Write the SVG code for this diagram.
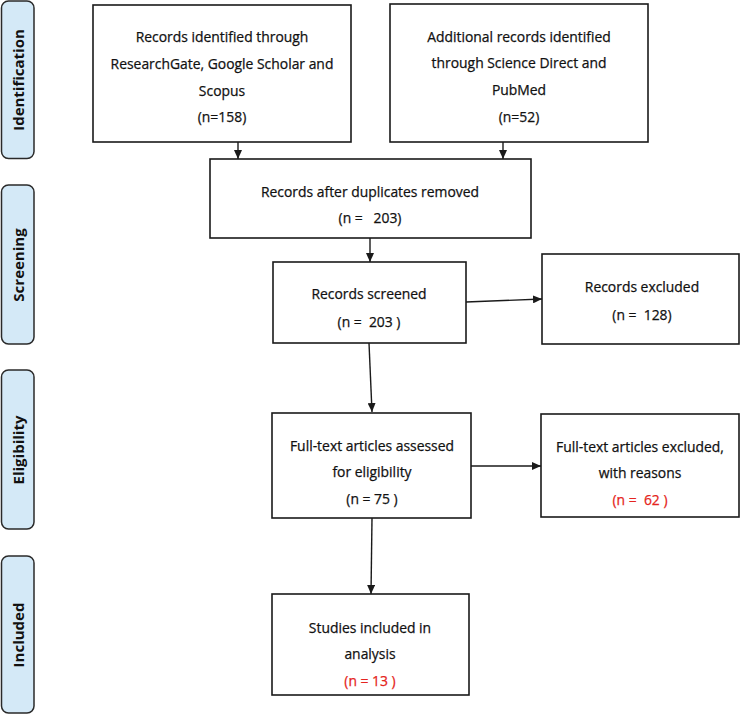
<svg xmlns="http://www.w3.org/2000/svg" width="741" height="715" viewBox="0 0 741 715">
<style>
  .bg { fill: #ffffff; }
  .phase rect { fill: #d4e9f7; stroke: #2a2a2a; stroke-width: 1.5; }
  .phase text { font-family: "Open Sans", "Liberation Sans", Arial, sans-serif; font-weight: bold; font-size: 15px; fill: #111111; text-anchor: middle; }
  .node rect { fill: #ffffff; stroke: #1a1a1a; stroke-width: 1.6; }
  .node text { font-family: "Open Sans", "Liberation Sans", Arial, sans-serif; font-size: 13.9px; fill: #111111; stroke: #111111; stroke-width: 0.25; text-anchor: middle; }
  .node text.red { fill: #e52420; stroke: #e52420; }
  .conn line { stroke: #1a1a1a; stroke-width: 1.4; fill: none; marker-end: url(#arr); }
</style>
<defs>
  <marker id="arr" markerUnits="userSpaceOnUse" markerWidth="10" markerHeight="8" refX="9" refY="4" orient="auto">
    <path d="M0,0 L9,4 L0,8 Z" fill="#1a1a1a"/>
  </marker>
</defs>
<rect class="bg" x="0" y="0" width="741" height="715"/>

<g id="phase-identification" class="phase">
  <rect x="1.5" y="1" width="32.5" height="157.5" rx="7"/>
  <text transform="translate(24,80) rotate(-90)">Identification</text>
</g>
<g id="phase-screening" class="phase">
  <rect x="1.5" y="185" width="32.5" height="159" rx="7"/>
  <text transform="translate(24,265) rotate(-90)">Screening</text>
</g>
<g id="phase-eligibility" class="phase">
  <rect x="1.5" y="370" width="32.5" height="159" rx="7"/>
  <text transform="translate(24,450) rotate(-90)">Eligibility</text>
</g>
<g id="phase-included" class="phase">
  <rect x="1.5" y="556" width="32.5" height="157" rx="7"/>
  <text transform="translate(24,635) rotate(-90)">Included</text>
</g>

<g id="connectors" class="conn">
  <line x1="238" y1="142" x2="238" y2="159"/>
  <line x1="503" y1="142" x2="503" y2="159"/>
  <line x1="370" y1="238" x2="370" y2="262"/>
  <line x1="466" y1="302" x2="542" y2="299"/>
  <line x1="369" y1="343" x2="372" y2="412"/>
  <line x1="471" y1="466" x2="541" y2="466"/>
  <line x1="372" y1="518" x2="371" y2="594"/>
</g>

<g id="node-records-identified" class="node">
  <rect x="93" y="5" width="258" height="137"/>
  <text x="222" y="42">Records identified through</text>
  <text x="222" y="69">ResearchGate, Google Scholar and</text>
  <text x="222" y="96">Scopus</text>
  <text x="222" y="122">(n=158)</text>
</g>
<g id="node-additional-records" class="node">
  <rect x="390" y="4" width="258" height="138"/>
  <text x="519" y="42">Additional records identified</text>
  <text x="519" y="68">through Science Direct and</text>
  <text x="519" y="95">PubMed</text>
  <text x="519" y="122">(n=52)</text>
</g>
<g id="node-after-duplicates" class="node">
  <rect x="210" y="159" width="321" height="79"/>
  <text x="370" y="197">Records after duplicates removed</text>
  <text x="370" y="223" xml:space="preserve">(n =   203)</text>
</g>
<g id="node-records-screened" class="node">
  <rect x="273" y="262" width="193" height="81"/>
  <text x="369" y="299">Records screened</text>
  <text x="369" y="327" xml:space="preserve">(n =  203 )</text>
</g>
<g id="node-records-excluded" class="node">
  <rect x="542" y="254" width="197" height="90"/>
  <text x="642" y="292">Records excluded</text>
  <text x="642" y="320" xml:space="preserve">(n =  128)</text>
</g>
<g id="node-fulltext-assessed" class="node">
  <rect x="272" y="413" width="199" height="105"/>
  <text x="372" y="451">Full-text articles assessed</text>
  <text x="372" y="477">for eligibility</text>
  <text x="372" y="504">(n = 75 )</text>
</g>
<g id="node-fulltext-excluded" class="node">
  <rect x="541" y="414" width="198" height="103"/>
  <text x="640" y="452">Full-text articles excluded,</text>
  <text x="640" y="478">with reasons</text>
  <text x="640" y="505" class="red" xml:space="preserve">(n =  62 )</text>
</g>
<g id="node-studies-included" class="node">
  <rect x="272" y="594" width="197" height="101"/>
  <text x="370" y="633">Studies included in</text>
  <text x="370" y="659">analysis</text>
  <text x="370" y="686" class="red">(n = 13 )</text>
</g>
</svg>
